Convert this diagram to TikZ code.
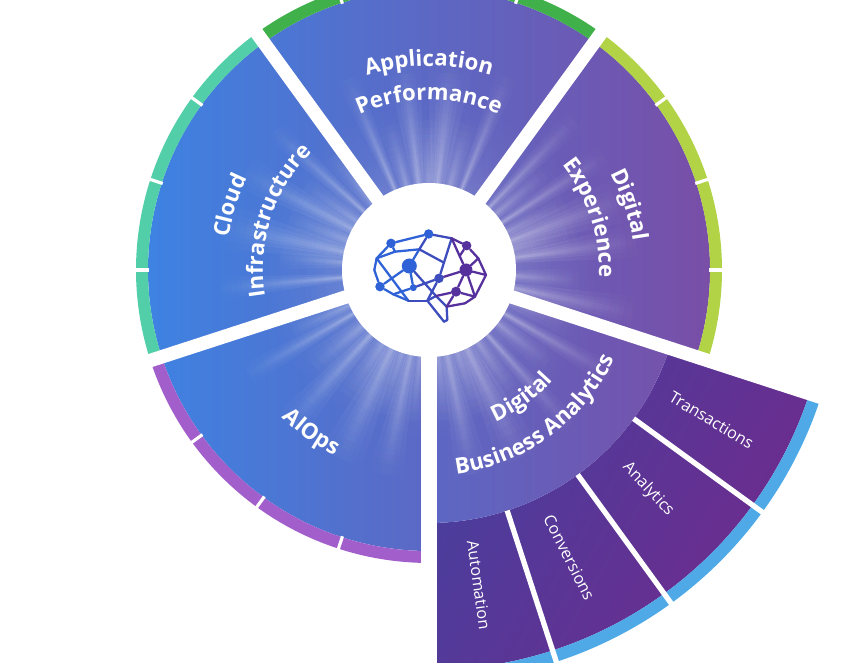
\documentclass[tikz,border=0pt]{standalone}
\usepackage{fontspec}
\setmainfont{Open Sans}
\usetikzlibrary{decorations.text, fadings}
\definecolor{wheelblue}{HTML}{3C84E4}
\definecolor{wheelmid}{HTML}{5A62BF}
\definecolor{wheelpurple}{HTML}{7D4BA3}
\definecolor{extdark}{HTML}{483F9E}
\definecolor{extpurple}{HTML}{702A8C}
\definecolor{ringgreen}{HTML}{3FB04A}
\definecolor{ringlime}{HTML}{B1D345}
\definecolor{ringteal}{HTML}{52CFA8}
\definecolor{ringviolet}{HTML}{A25FCC}
\definecolor{ringsky}{HTML}{4EA9E6}
\definecolor{brainb}{HTML}{2F62D6}
\definecolor{brainm}{HTML}{3D4DBE}
\definecolor{brainp}{HTML}{56309C}
\pgfdeclareradialshading{rayshade}{\pgfpointorigin}{color(0bp)=(black!90); color(10bp)=(black!90); color(25bp)=(black); color(50bp)=(black)}
\pgfdeclarefading{rayfade}{\pgfuseshading{rayshade}}
\newcommand{\capfont}{\color{white}\fontsize{12.6}{15}\selectfont\bfseries}
\tikzset{
  ring/.style={line width=6.8pt},
  spoke/.style={draw=white, line width=7.7pt},
  tick/.style={draw=white, line width=1.8pt},
  divider/.style={draw=white, line width=3pt},
  arclab/.style={decorate, decoration={text along path, text align=center, text={|\capfont|#1}}},
  sublab/.style={text=white, font=\fontsize{9.2}{12}\selectfont, inner sep=0pt},
  ray/.style={fill=white, path fading=rayfade},
  bline/.style={line width=1.3pt, line cap=round, line join=round},
  bdot/.style={circle, inner sep=0pt},
}
\begin{document}
\begin{tikzpicture}[x=0.02cm,y=0.02cm]
  \useasboundingbox (-429,-393) rectangle (421,270);
  \clip (-429,-393) rectangle (421,270);
  % extended sector
  \shade[left color=extdark, right color=extpurple, shading angle=60]
    (-90:253) -- (-90:400) arc (-90:-18:400) -- (-18:253) arc (-18:-90:253) -- cycle;
  \draw[ring, draw=ringsky] (-90:406) arc (-90:-18:406);
  % main wheel
  \shade[left color=wheelblue, middle color=wheelmid, right color=wheelpurple]
    (0,0) -- (-18:281) arc (-18:270:281) -- (-90:253) arc (-90:-18:253) -- cycle;
  % rings
  \foreach \a/\b/\c in {-18/54/ringlime, 54/126/ringgreen, 126/198/ringteal, 198/270/ringviolet}{
    \draw[ring, draw=\c] (\a:287) arc (\a:\b:287);
  }
  \foreach \t in {0,18,36,72,90,108,144,162,180,216,234,252}{
    \draw[tick] (\t:280) -- (\t:295);
  }
  % light rays
  \fill[ray] (-170,-170) rectangle (170,170);
  \fill[ray] (-125,-125) rectangle (125,125);
  \foreach \s in {1.6,1,0.6,0.3}{
    \fill[ray] (-215,-215) -- (-215,-215) (215,215) -- (215,215)
      foreach \a/\w in {8/3, 20/4, 33/2, 46/2, 68/2, 84/4, 97/3, 113/2, 138/2, 152/3, 168/4, 185/2, 210/2, 228/3, 245/4, 258/3, 282/3, 296/4, 312/2, 330/2, 348/3}{
        (\a:40) -- (\a-\s*\w:215) -- (\a+\s*\w:215) -- cycle
      };
    \fill[ray] (-155,-155) -- (-155,-155) (155,155) -- (155,155)
      foreach \a/\w in {14/5, 26/3, 40/3, 76/4, 90/5, 105/3, 130/3, 146/4, 160/5, 175/3, 204/3, 220/4, 238/5, 252/4, 264/3, 276/4, 289/5, 304/4, 322/3, 340/4, 356/3}{
        (\a:40) -- (\a-\s*\w:155) -- (\a+\s*\w:155) -- cycle
      };
  }
  % dividers and spokes
  \foreach \t in {-72,-54,-36}{
    \draw[divider] (\t:253) -- (\t:415);
  }
  \foreach \t/\r in {54/300, 126/300, 198/300}{
    \draw[spoke] (0,0) -- (\t:\r);
  }
  \draw[spoke] (0,0) -- (-18:420);
  \draw[spoke, line width=9pt] (0,0) -- (-90:420);
  \fill[white] (0,0) circle (87);
  % labels
  \path[arclab={Application}] (126:204) arc (126:54:204);
  \path[arclab={Performance}] (126:170) arc (126:54:170);
  \path[arclab={Digital}] (54:206) arc (54:-18:206);
  \path[arclab={Experience}] (54:170) arc (54:-18:170);
  \path[arclab={Cloud}] (198:203) arc (198:126:203);
  \path[arclab={Infrastructure}] (198:166) arc (198:126:166);
  \path[arclab={AIOps}] (200:208) arc (200:268:208);
  \path[arclab={Digital}] (-90:166) arc (-90:-18:166);
  \path[arclab={Business Analytics}] (-90:206) arc (-90:-18:206);
  \node[sublab, rotate=-82] (automation) at (-81:319) {Automation};
  \node[sublab, rotate=-63] (conversions) at (-64:320) {Conversions};
  \node[sublab, rotate=-47] (analytics) at (-45:310) {Analytics};
  \node[sublab, rotate=-31] (transactions) at (-28:320) {Transactions};
  % brain
  \begin{scope}[shift={(-89,90)}, xscale=0.3333, yscale=-0.3333]
    \foreach \n/\x/\y/\d/\c in {ba/153/190/1.9/brainb, bb/266/162/1.9/brainb, bc/208/258/3/brainb, bd/120/320/1.9/brainb, be/220/323/1.4/brainb, bf/297/295/1.9/brainm, bg/380/197/1.9/brainp, bh/378/270/2.6/brainp, bi/348/335/2/brainp}{
      \node[bdot, fill=\c, minimum size=\d mm] (\n) at (\x,\y) {};
    }
    \foreach \n/\x/\y in {ja/103/270, jb/110/235, jc/165/215, jd/238/208, je/312/248, jf/335/175, jg/415/235, jh/438/285, ji/405/350, jj/375/370, jk/320/380, jl/262/362, jm/205/362, jn/160/343, jo/312/425, jp/322/420, jq/288/348, js/359/228}{
      \coordinate (\n) at (\x,\y);
    }
    \foreach \p/\q in {bd/ja, ja/jb, jb/ba, ba/bb, jb/jc, jc/jd, ba/jc, jd/bc, bd/bc, jb/jm, jm/jn, jn/bd, jn/be, be/bc}{
      \draw[bline, draw=brainb] (\p) -- (\q);
    }
    \foreach \p/\q in {bb/jf, jd/bb, jd/je, jf/bf, bf/jl, be/bf, bc/jq, jl/jm, jl/jq, jq/jk, jk/jp, jp/jo, jo/jl}{
      \draw[bline, draw=brainm] (\p) -- (\q);
    }
    \foreach \p/\q in {jf/bg, bg/jg, jg/jh, jh/ji, ji/jj, jj/jk, jf/bh, bg/js, bh/jg, bh/jh, bh/ji, bh/bi, bf/bh, jq/bi, bi/ji, bi/jk}{
      \draw[bline, draw=brainp] (\p) -- (\q);
    }
  \end{scope}
\end{tikzpicture}
\end{document}
